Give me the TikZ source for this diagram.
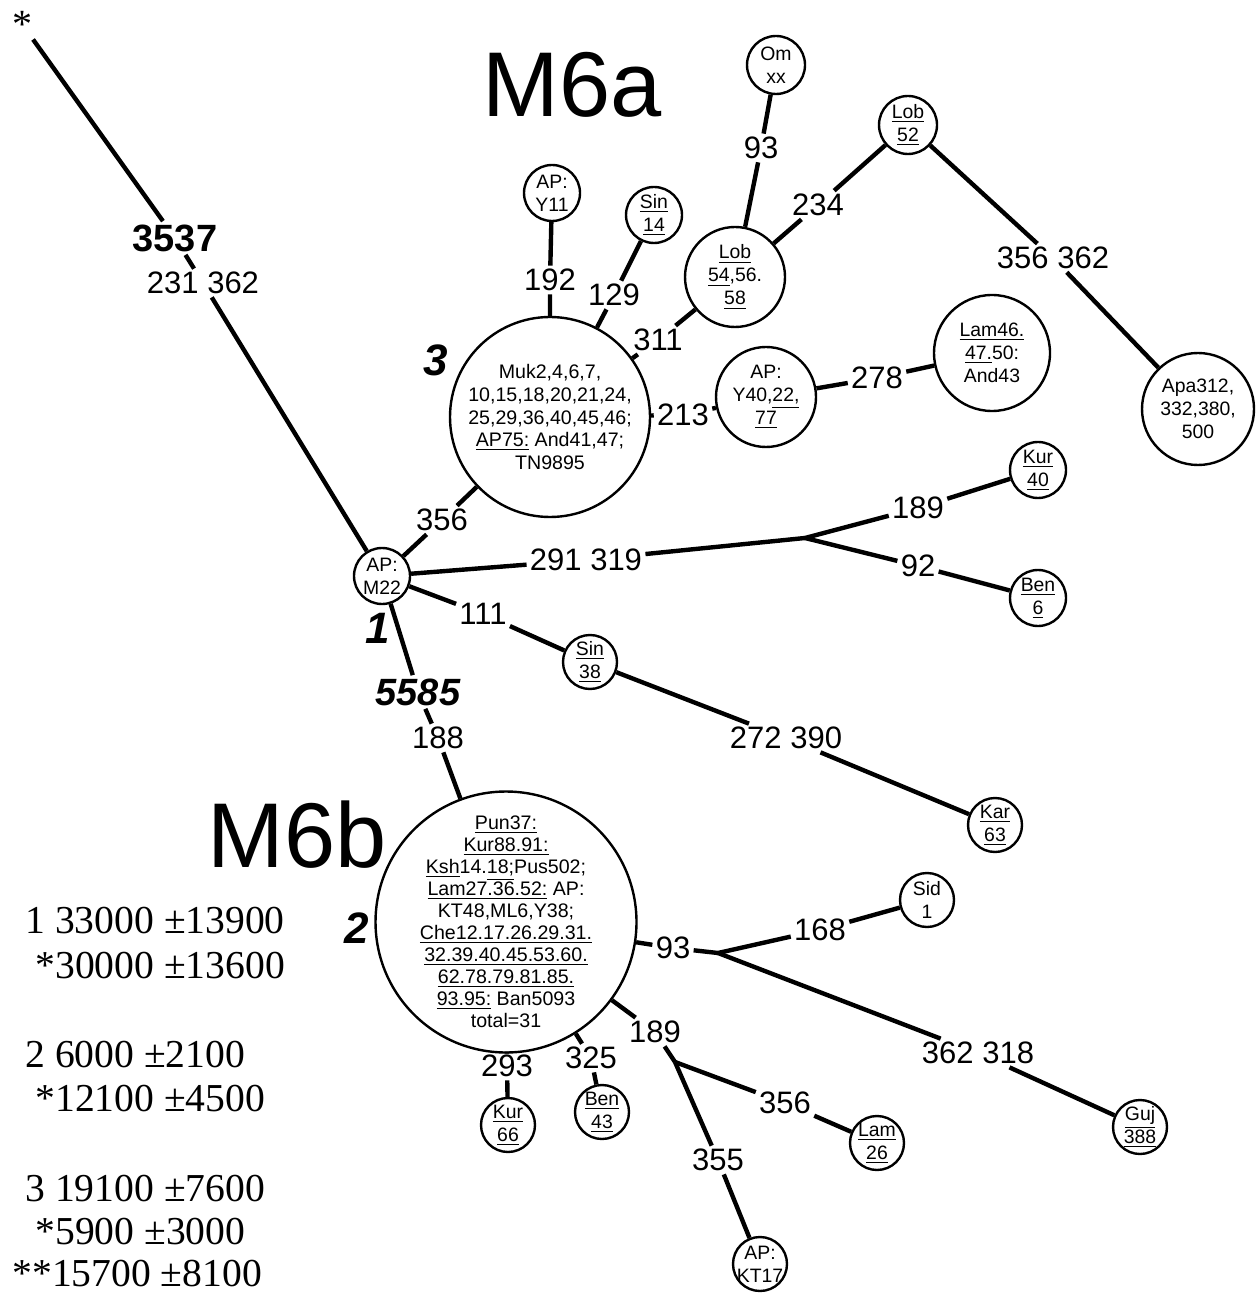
\documentclass[tikz,border=0pt]{standalone}
\usepackage{fontspec}
\setmainfont{Liberation Sans}
\newfontfamily\timesf{Liberation Serif}
\begin{document}
\begin{tikzpicture}[x=0.5pt,y=-0.5pt]
	\tikzset{hap/.style={circle,draw,line width=1.2pt,inner sep=-2pt,align=center,
	           font=\fontsize{9.7}{11.5}\selectfont},
	         lab/.style={inner sep=1.5pt,font=\fontsize{15.5}{18}\selectfont},
	         blab/.style={inner sep=1.5pt,font=\fontsize{19}{22}\selectfont\bfseries},
	         num/.style={font=\fontsize{22}{26}\selectfont\bfseries\itshape},
	         clade/.style={font=\fontsize{46}{50}\selectfont},
	         age/.style={anchor=west,inner sep=0pt,font=\timesf\fontsize{19.8}{22}\selectfont},
	         edge/.style={line width=2.2pt}}
	\useasboundingbox (0,0) rectangle (1257,1293);
	% haplotype circles
	\node[hap,minimum size=28pt] (m22) at (382,576) {AP:\\M22};
	\node[hap,minimum size=100pt,font=\fontsize{9.8}{11.35}\selectfont] (c3) at (550,417)
	  {Muk2,4,6,7,\\10,15,18,20,21,24,\\25,29,36,40,45,46;\\\underline{AP75:} And41,47;\\TN9895};
	\node[hap,minimum size=128pt,font=\fontsize{9.8}{11}\selectfont] (c2) at (506,922)
	  {\underline{Pun37:}\\\underline{Kur88.91:}\\\underline{Ksh}14.\underline{18;}Pus502;\\
	   \underline{Lam27.36.52:} AP:\\KT48,ML6,Y38;\\\underline{Che12.17.26.29.31.}\\
	   \underline{32.39.40.45.53.60.}\\\underline{62.78.79.81.85.}\\\underline{93.95:} Ban5093\\total=31};
	\node[hap,minimum size=28pt] (y11) at (552,193) {AP:\\Y11};
	\node[hap,minimum size=28pt] (sin14) at (654,215) {\underline{Sin}\\\underline{14}};
	\node[hap,minimum size=29pt] (om) at (776,65) {Om\\xx};
	\node[hap,minimum size=50pt] (lob54) at (735,277) {\underline{Lob}\\\underline{54},56.\\\underline{58}};
	\node[hap,minimum size=29pt] (lob52) at (908,125) {\underline{Lob}\\\underline{52}};
	\node[hap,minimum size=56pt] (apa) at (1198,409) {Apa312,\\332,380,\\500};
	\node[hap,minimum size=58pt] (lam46) at (992,353) {\underline{Lam46.}\\\underline{47.}50:\\And43};
	\node[hap,minimum size=50pt] (y40) at (766,397) {AP:\\Y40,\underline{22,}\\\underline{77}};
	\node[hap,minimum size=28pt] (kur40) at (1038,470) {\underline{Kur}\\\underline{40}};
	\node[hap,minimum size=28pt] (ben6) at (1038,598) {\underline{Ben}\\\underline{6}};
	\node[hap,minimum size=27pt] (sin38) at (590,662) {\underline{Sin}\\\underline{38}};
	\node[hap,minimum size=27pt] (kar63) at (995,825) {\underline{Kar}\\\underline{63}};
	\node[hap,minimum size=27pt] (sid1) at (927,900) {Sid\\1};
	\node[hap,minimum size=27pt] (guj) at (1140,1127) {\underline{Guj}\\\underline{388}};
	\node[hap,minimum size=27pt] (lam26) at (877,1143) {\underline{Lam}\\\underline{26}};
	\node[hap,minimum size=27pt] (kt17) at (760,1264) {AP:\\KT17};
	\node[hap,minimum size=27pt] (ben43) at (602,1112) {\underline{Ben}\\\underline{43}};
	\node[hap,minimum size=27pt] (kur66) at (508,1125) {\underline{Kur}\\\underline{66}};
	% branch points
	\coordinate (j1) at (805,538);
	\coordinate (j2) at (718,953);
	\coordinate (j3) at (675,1062);
	% mutation labels
	\node[font=\timesf\fontsize{20}{22}\selectfont,inner sep=1pt] (star) at (22,24) {*};
	\node[blab] (l3537) at (175,238) {3537};
	\node[lab] (l231) at (203,283) {231 362};
	\node[lab] (l356a) at (442,520) {356};
	\node[lab] (l291) at (586,560) {291 319};
	\node[lab] (l189a) at (918,508) {189};
	\node[lab] (l92) at (918,566) {92};
	\node[lab] (l111) at (483,614) {111};
	\node[lab] (l272) at (786,738) {272 390};
	\node[blab,font=\fontsize{19}{22}\selectfont\bfseries\itshape] (l5585) at (418,692) {5585};
	\node[lab] (l188) at (438,738) {188};
	\node[lab] (l192) at (550,280) {192};
	\node[lab] (l129) at (614,295) {129};
	\node[lab] (l311) at (658,340) {311};
	\node[lab] (l213) at (683,415) {213};
	\node[lab] (l278) at (877,378) {278};
	\node[lab] (l93a) at (761,148) {93};
	\node[lab] (l234) at (818,205) {234};
	\node[lab] (l356b) at (1053,258) {356 362};
	\node[lab] (l93b) at (673,948) {93};
	\node[lab] (l168) at (820,930) {168};
	\node[lab] (l362) at (978,1053) {362 318};
	\node[lab] (l189b) at (655,1032) {189};
	\node[lab] (l356c) at (785,1103) {356};
	\node[lab] (l355) at (718,1160) {355};
	\node[lab] (l293) at (507,1066) {293};
	\node[lab] (l325) at (591,1058) {325};
	% edges
	\draw[edge] (star) -- (l3537) -- (l231) -- (m22);
	\draw[edge] (m22) -- (l356a) -- (c3);
	\draw[edge] (m22) -- (l291) -- (j1);
	\draw[edge] (j1) -- (l189a) -- (kur40);
	\draw[edge] (j1) -- (l92) -- (ben6);
	\draw[edge] (m22) -- (l111) -- (sin38) -- (l272) -- (kar63);
	\draw[edge] (m22) -- (l5585) -- (l188) -- (c2);
	\draw[edge] (c3) -- (l192) -- (y11);
	\draw[edge] (c3) -- (l129) -- (sin14);
	\draw[edge] (c3) -- (l311) -- (lob54);
	\draw[edge] (c3) -- (l213) -- (y40) -- (l278) -- (lam46);
	\draw[edge] (lob54) -- (l93a) -- (om);
	\draw[edge] (lob54) -- (l234) -- (lob52) -- (l356b) -- (apa);
	\draw[edge] (c2) -- (l93b) -- (j2);
	\draw[edge] (j2) -- (l168) -- (sid1);
	\draw[edge] (j2) -- (l362) -- (guj);
	\draw[edge] (c2) -- (l189b) -- (j3);
	\draw[edge] (j3) -- (l356c) -- (lam26);
	\draw[edge] (j3) -- (l355) -- (kt17);
	\draw[edge] (c2) -- (l293) -- (kur66);
	\draw[edge] (c2) -- (l325) -- (ben43);
	% clade names and node numbers
	\node[clade] (m6a) at (572,85) {M6a};
	\node[clade] (m6b) at (297,835) {M6b};
	\node[num] (n1) at (378,628) {1};
	\node[num] (n2) at (357,928) {2};
	\node[num] (n3) at (436,360) {3};
	% age estimates
	\node[age] (a1) at (25,921) {1 33000 ±13900};
	\node[age] (a1s) at (35,966) {*30000 ±13600};
	\node[age] (a2) at (25,1055) {2 6000 ±2100};
	\node[age] (a2s) at (35,1099) {*12100 ±4500};
	\node[age] (a3) at (25,1189) {3 19100 ±7600};
	\node[age] (a3s) at (35,1232) {*5900 ±3000};
	\node[age] (a3ss) at (12,1274) {**15700 ±8100};
\end{tikzpicture}
\end{document}
